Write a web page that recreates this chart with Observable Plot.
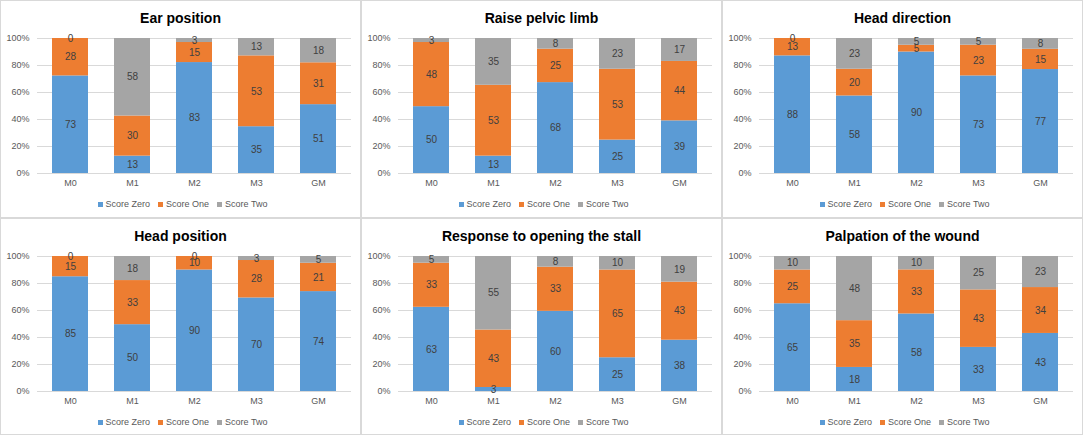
<!DOCTYPE html>
<html>
<head>
<meta charset="utf-8">
<script src="https://cdn.jsdelivr.net/npm/d3@7"></script>
<script src="https://cdn.jsdelivr.net/npm/@observablehq/plot@0.6"></script>
<style>
  body { margin: 0; background: #fff; font-family: "Liberation Sans", Arial, sans-serif; }
  #grid {
    display: grid;
    grid-template-columns: 359px 359px 359px;
    grid-template-rows: 216px 215px;
    gap: 2px;
    padding: 1px;
    background: #d9d9d9;
    width: max-content;
  }
  .panel { background: #fff; overflow: hidden; }
  .title { height: 32px; line-height: 34px; text-align: center; font-weight: bold; font-size: 14px; color: #000; }
  .legend { height: 21px; display: flex; justify-content: center; align-items: center; gap: 8px; font-size: 9px; color: #595959; padding-left: 4px; }
  .sw { display: inline-block; width: 5px; height: 5px; margin-right: 3px; }
</style>
</head>
<body>
<div id="grid"></div>
<script>
const months = ["M0", "M1", "M2", "M3", "GM"];
const series = ["Score Zero", "Score One", "Score Two"];
const colors = ["#5B9BD5", "#ED7D31", "#A5A5A5"];
const yTicks = [0, 0.2, 0.4, 0.6, 0.8, 1];

const titles = [
  "Ear position",
  "Raise pelvic limb",
  "Head direction",
  "Head position",
  "Response to opening the stall",
  "Palpation of the wound",
];

// values per panel: score zero / one / two, in month order
const earZero = [73, 13, 83, 35, 51];
const earOne = [28, 30, 15, 53, 31];
const earTwo = [0, 58, 3, 13, 18];

const pelvicZero = [50, 13, 68, 25, 39];
const pelvicOne = [48, 53, 25, 53, 44];
const pelvicTwo = [3, 35, 8, 23, 17];

const headDirZero = [88, 58, 90, 73, 77];
const headDirOne = [13, 20, 5, 23, 15];
const headDirTwo = [0, 23, 5, 5, 8];

const headPosZero = [85, 50, 90, 70, 74];
const headPosOne = [15, 33, 10, 28, 21];
const headPosTwo = [0, 18, 0, 3, 5];

const stallZero = [63, 3, 60, 25, 38];
const stallOne = [33, 43, 33, 65, 43];
const stallTwo = [5, 55, 8, 10, 19];

const woundZero = [65, 18, 58, 33, 43];
const woundOne = [25, 35, 33, 43, 34];
const woundTwo = [10, 48, 10, 25, 23];

const panelValues = [
  [earZero, earOne, earTwo],
  [pelvicZero, pelvicOne, pelvicTwo],
  [headDirZero, headDirOne, headDirTwo],
  [headPosZero, headPosOne, headPosTwo],
  [stallZero, stallOne, stallTwo],
  [woundZero, woundOne, woundTwo],
];

function drawPanel(title, values) {
  const panel = document.createElement("div");
  panel.className = "panel";

  const head = document.createElement("div");
  head.className = "title";
  head.textContent = title;
  panel.appendChild(head);

  // long format, stacked bottom-up in series order
  let rows = [];
  months.forEach((m, i) => {
    series.forEach((s, j) => {
      rows.push({ month: m, score: s, value: values[j][i] });
    });
  });

  const chart = Plot.plot({
    width: 359,
    height: 160,
    marginTop: 5,
    marginBottom: 20,
    marginLeft: 36,
    marginRight: 9,
    style: {
      fontFamily: '"Liberation Sans", Arial, sans-serif',
      fontSize: "9px",
      color: "#595959",
      background: "transparent",
    },
    x: {
      domain: months,
      paddingInner: 0.42,
      paddingOuter: 0.21,
      label: null,
      tickSize: 0,
      tickPadding: 6,
    },
    y: {
      domain: [0, 1],
      ticks: yTicks,
      tickFormat: d3.format(".0%"),
      label: null,
      tickSize: 0,
      tickPadding: 8,
    },
    color: { domain: series, range: colors },
    marks: [
      Plot.ruleY(yTicks, { stroke: "#d9d9d9" }),
      Plot.barY(
        rows,
        Plot.stackY({ offset: "normalize", x: "month", y: "value", fill: "score" }),
      ),
      Plot.text(
        rows,
        Plot.stackY({
          offset: "normalize",
          x: "month",
          y: "value",
          text: (d) => String(d.value),
          fill: "#404040",
          fontSize: 10,
        }),
      ),
    ],
  });
  panel.appendChild(chart);

  const legend = document.createElement("div");
  legend.className = "legend";
  series.forEach((s, i) => {
    const item = document.createElement("span");
    item.innerHTML = `<span class="sw" style="background:${colors[i]}"></span>${s}`;
    legend.appendChild(item);
  });
  panel.appendChild(legend);

  return panel;
}

const grid = document.getElementById("grid");
titles.forEach((t, i) => {
  grid.appendChild(drawPanel(t, panelValues[i]));
});
</script>
</body>
</html>
